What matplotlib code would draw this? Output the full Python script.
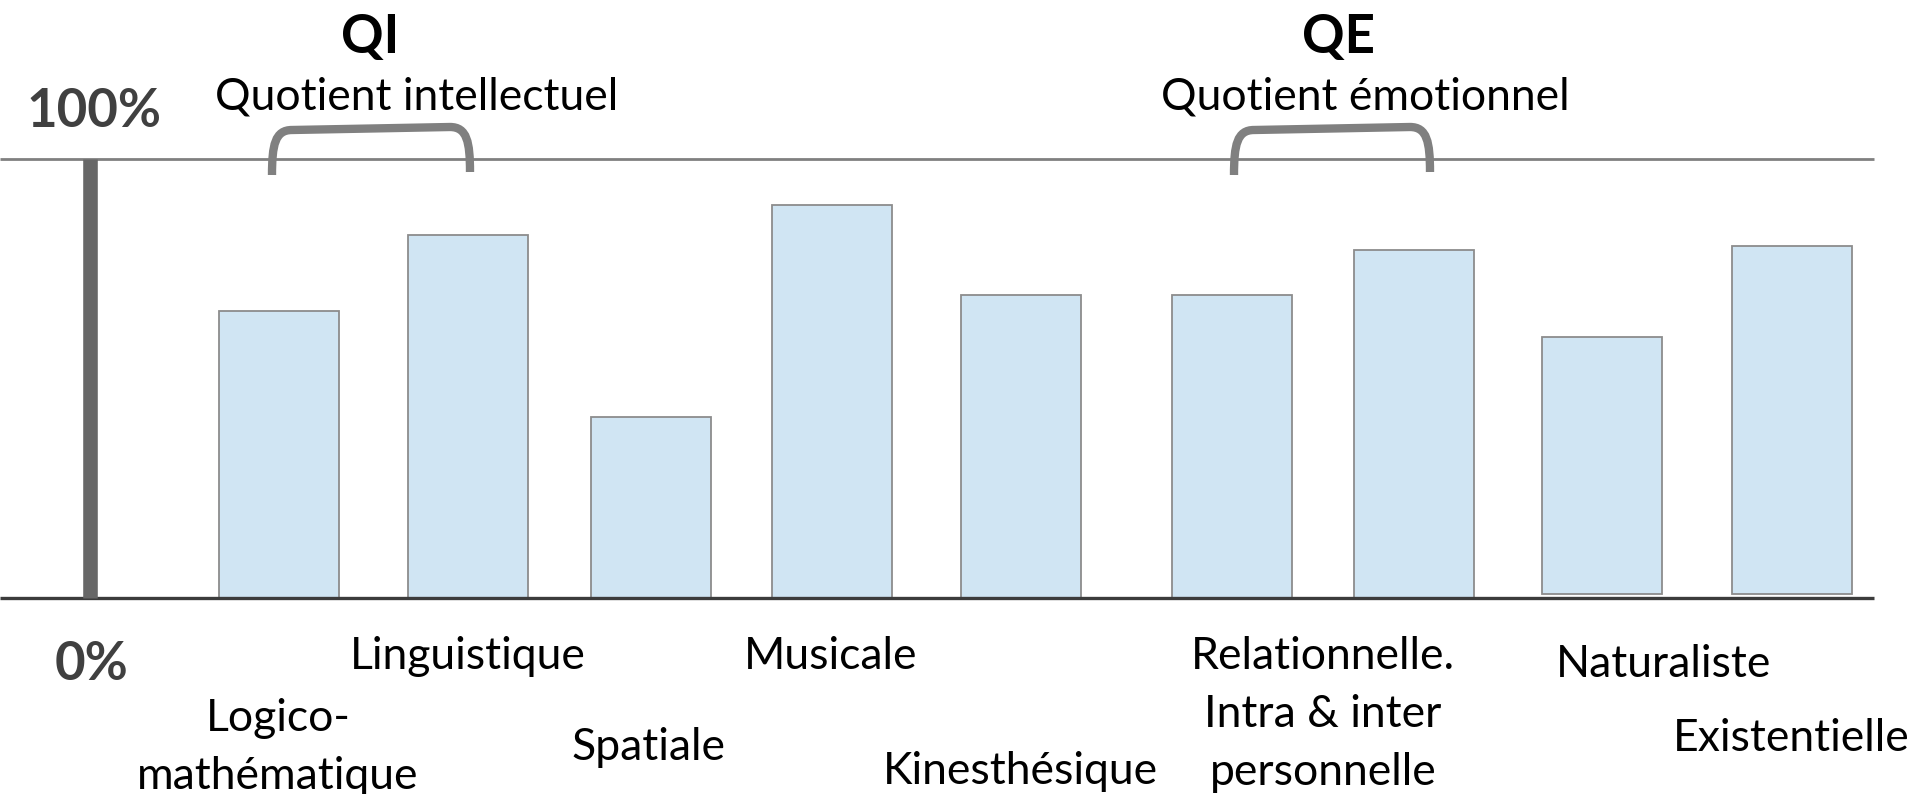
import matplotlib
matplotlib.use("Agg")
import matplotlib.pyplot as plt
from matplotlib.path import Path
from matplotlib.patches import PathPatch

plt.rcParams['font.family'] = ['Lato', 'DejaVu Sans']

# ---- data ----
categories = ["Logico-\nmathématique", "Linguistique", "Spatiale", "Musicale",
              "Kinesthésique", "Relationnelle.\nIntra & inter\npersonnelle",
              "", "Naturaliste", "Existentielle"]
values = [65.4, 82.7, 41.2, 89.5, 69.0, 69.0, 79.3, 59.5, 80.2]
bar_bottoms = [0, 0, 0, 0, 0, 0, 0, 0.9, 0.9]
ytick_labels = ["0%", "100%"]
group_titles = ["QI", "QE"]
group_subtitles = ["Quotient intellectuel", "Quotient émotionnel"]

# ---- layout (pixel coordinates of the 1921x794 canvas) ----
W, H = 1921, 794
bar_x = [279, 468, 650.5, 831.5, 1020.5, 1232, 1414, 1602, 1791.5]
bar_w = 120
label_x = [278, 468, 648, 831, 1020, 1323, None, 1664, 1791]
label_base = [731, 669, 760, 669, 784, 669, None, 677, 751]
line_step = 58

fig = plt.figure(figsize=(W / 100, H / 100), dpi=100)
y0_px, y100_px = 598, 159
ax = fig.add_axes([0, (H - y0_px) / H, 1, (y0_px - y100_px) / H])
ax.set_xlim(0, W)
ax.set_ylim(0, 100)
ax.axis('off')

heights = [v - b for v, b in zip(values, bar_bottoms)]
ax.bar(bar_x, heights, width=bar_w, bottom=bar_bottoms, color='#D0E5F3',
       edgecolor='#8C8C8C', linewidth=1.3, zorder=2)

ax.hlines(100, 0, 1874, color='#808080', linewidth=2, zorder=1, clip_on=False)
ax.hlines(0, 0, 1874, color='#3C3C3C', linewidth=2.4, zorder=3, clip_on=False)
ax.vlines(90, 0, 100, color='#676767', linewidth=10.5, zorder=3, clip_on=False)

# overlay axes in pixel coordinates (y from top)
ov = fig.add_axes([0, 0, 1, 1])
ov.set_xlim(0, W)
ov.set_ylim(H, 0)
ov.axis('off')
ov.patch.set_alpha(0)

ov.text(94, 127, ytick_labels[1], ha='center', va='baseline', fontsize=38,
        fontweight='bold', color='#404040')
ov.text(91, 680, ytick_labels[0], ha='center', va='baseline', fontsize=38,
        fontweight='bold', color='#404040')

title_x = [370, 1339]
sub_x = [417, 1365]
for tx, sx, t, s in zip(title_x, sub_x, group_titles, group_subtitles):
    ov.text(tx, 53, t, ha='center', va='baseline', fontsize=38,
            fontweight='bold', color='black')
    ov.text(sx, 110, s, ha='center', va='baseline', fontsize=32, color='black')

# brackets
for (xl, xr) in [(272, 470), (1234, 1430)]:
    verts = [(xl, 175), (xl, 145), (xl + 3, 130), (xl + 20, 130),
             (xr - 20, 127), (xr - 3, 127), (xr, 142), (xr, 172)]
    codes = [Path.MOVETO, Path.CURVE4, Path.CURVE4, Path.CURVE4,
             Path.LINETO, Path.CURVE4, Path.CURVE4, Path.CURVE4]
    ov.add_patch(PathPatch(Path(verts, codes), facecolor='none',
                           edgecolor='#808080', linewidth=6, capstyle='butt'))

for lx, lb, txt in zip(label_x, label_base, categories):
    if not txt:
        continue
    for i, line in enumerate(txt.split("\n")):
        ov.text(lx, lb + i * line_step, line, ha='center', va='baseline',
                fontsize=32, color='black')

fig.savefig("out.png", dpi=100)
